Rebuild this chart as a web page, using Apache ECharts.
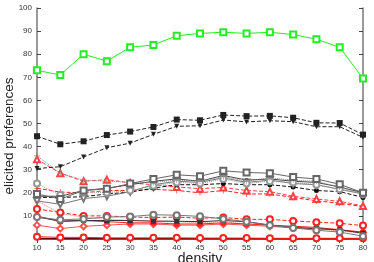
<!DOCTYPE html>
<html><head><meta charset="utf-8">
<script src="https://cdn.jsdelivr.net/npm/echarts@6/dist/echarts.min.js"></script>
<style>html,body{margin:0;padding:0;background:#fff}#c{width:374px;height:262px}</style>
</head><body><div id="c"></div>
<script>
const densities = [10,15,20,25,30,35,40,45,50,55,60,65,70,75,80];
const yTicks = [0,10,20,30,40,50,60,70,80,90,100];
const xTitle = 'density';
const yTitle = 'elicited preferences';

const greenSquares   = [73,71,80,77,83,84,88,89,89.5,89,89.5,88.5,86.5,83,69.5];
const blackSqDashed  = [44.5,41,42.3,45,46.5,48.5,51.7,51.4,53.7,53.2,53.3,52.5,50.3,50.2,45.2];
const blackTriDashed = [30.5,31.3,35.5,39.5,41.5,45.3,48.8,49,51.5,50.7,51.2,50.8,48.6,48.6,44];
const blackOpenSq    = [19.5,17.3,21,21.7,24,26,27.8,27.2,29.5,28.8,28.5,26.8,26,23.7,20];
const grayPlus       = [36,28.5,25.5,25,24.5,24.5,25.5,25,27,25,26.5,25.5,25,22.5,19.5];
const grayOpenCircle = [24,19,20.5,20,21,23,24.5,24,26,24,25,24.5,23.5,21.5,19.5];
const blackSolidMid  = [18.5,18.5,21,22,23.5,25,26,25,27.5,25.5,26,25,24.5,22.5,20];
const grayOpenTriDn  = [16.5,15,17.5,18.5,20.5,23.5,25,24.5,26.5,24.5,25.5,24,23.5,21.5,19.5];
const blackDotDashed = [18,18,18.3,19.5,20.3,22,23.5,23.5,24,23.5,23.5,22.5,21,20.5,18];
const redOpenTri     = [34.5,28.5,25,25.7,24.3,23.5,22.5,21.8,22.3,21,20.5,18.5,17.3,16.3,14.3];
const redStarDashed  = [22,20.3,20,21,21,21.5,21,20,21,19.5,19.5,18,16.5,15.5,14];
const grayCircleLow  = [9.5,8.3,8.7,9.5,9.7,10.5,10.3,9.8,8.7,7.5,6,4.8,3.8,3,1.2];
const blackSqLow     = [9.5,7.8,8,8,8,7.7,7.7,7.5,8,7.5,6,5,4.5,4,2.5];
const redOpenCircDsh = [13,11.5,10,10,9.5,9.3,9.5,9,9.3,8.5,8.5,7.8,7.3,6.8,5.8];
const redFilledCirc  = [10,7.5,8,7.5,7,7,6.5,6.5,7,6.5,6,5.5,5,4,3];
const redDotted      = [16.5,11,9.5,8.5,8,8,7.5,7,7.5,6.5,6,5,4.5,3.5,2.5];
const redOpenDiamond = [6,4.5,5.5,6,6.5,6.5,6,6,6.5,6,5.5,4.8,4.5,3.8,2.8];
const redBottomCirc  = [1,0.7,0.7,0.5,0.5,0.5,0.5,0.4,0.4,0.4,0.3,0.3,0.3,0.3,0.3];
const darkBottom     = [0.2,0.1,0.1,0.1,0.1,0.1,0.1,0.1,0.1,0.1,0.1,0.1,0.1,0.1,0.1];

const plusPath = 'path://M-0.6,-6H0.6V-0.6H6V0.6H0.6V6H-0.6V0.6H-6V-0.6H-0.6Z';

function mk(data, color, type, symbol, opts) {
  opts = opts || {};
  return {
    type: 'line', data: densities.map((d,i)=>[d,data[i]]),
    symbol: symbol, symbolSize: opts.size || 6, symbolRotate: opts.rotate || 0,
    showAllSymbol: true,
    lineStyle: {color: color, width: opts.width || 1, type: type},
    itemStyle: {color: color, borderWidth: opts.bw || 1},
    z: opts.z || 2, animation: false, silent: true
  };
}

const series = [
  mk(darkBottom, '#660000', 'solid', 'none', {width:1.5}),
  mk(redBottomCirc, '#ff2020', 'solid', 'emptyCircle'),
  mk(redOpenDiamond, '#ff5050', 'solid', 'emptyDiamond'),
  mk(redDotted, '#ff7070', 'dotted', 'circle', {size:5}),
  mk(redFilledCirc, '#ff2020', 'solid', 'circle'),
  mk(redOpenCircDsh, '#ff2020', 'dashed', 'emptyCircle'),
  mk(blackSqLow, '#333', 'solid', 'rect', {size:5}),
  mk(grayCircleLow, '#777', 'solid', 'emptyCircle'),
  mk(redStarDashed, '#ff2020', 'dashed', plusPath, {size:6}),
  mk(redOpenTri, '#ff4040', 'dashed', 'emptyTriangle'),
  mk(blackDotDashed, '#111', 'dashed', 'circle', {size:5}),
  mk(grayOpenTriDn, '#777', 'solid', 'emptyTriangle', {rotate:180}),
  mk(blackSolidMid, '#444', 'solid', 'circle', {size:4}),
  mk(grayOpenCircle, '#999', 'dotted', 'emptyCircle'),
  mk(grayPlus, '#888', 'dotted', plusPath, {size:6}),
  mk(blackOpenSq, '#666', 'solid', 'emptyRect'),
  mk(blackTriDashed, '#222', 'dashed', 'triangle', {rotate:180, size:5}),
  mk(blackSqDashed, '#222', 'dashed', 'rect', {size:6}),
  mk(greenSquares, '#22ee22', 'solid', 'emptyRect', {size:6, bw:1.5})
];

const axisLine = {show:true, lineStyle:{color:'#777', width:1.5}};
const tick = {show:true, inside:true, length:4, lineStyle:{color:'#444'}};
const chart = echarts.init(document.getElementById('c'), null, {renderer:'canvas'});
chart.setOption({
  backgroundColor: '#fff',
  animation: false,
  grid: {left:37, right:11, top:8, bottom:23, containLabel:false, outerBoundsMode:'none'},
  graphic: [{
    type:'text', x: 9, y: 136, rotation: Math.PI/2, silent:true,
    style:{text: yTitle, fontFamily:'Liberation Sans', fontSize:13.5, fill:'#222',
      align:'center', verticalAlign:'middle'}
  }],
  xAxis: [
    {type:'value', min:10, max:80, interval:5, position:'bottom',
     name: xTitle, nameLocation:'middle', nameGap:13, nameMoveOverlap:false,
     nameTextStyle:{fontFamily:'Liberation Sans', fontSize:14, color:'#222'},
     axisLine: axisLine, axisTick: tick,
     axisLabel:{fontFamily:'Liberation Sans', fontSize:8, color:'#333', margin:5,
       formatter: v => densities.includes(v) ? String(v) : ''},
     splitLine:{show:false}},
    {type:'value', min:10, max:80, interval:5, position:'top',
     axisLine: axisLine, axisTick: tick, axisLabel:{show:false}, splitLine:{show:false}}
  ],
  yAxis: [
    {type:'value', min:0, max:100, interval:10, position:'left',
     axisLine: axisLine, axisTick: tick,
     axisLabel:{fontFamily:'Liberation Sans', fontSize:8, color:'#333', margin:5,
       formatter: v => (v === 0 || !yTicks.includes(v)) ? '' : String(v)},
     splitLine:{show:false}},
    {type:'value', min:0, max:100, interval:10, position:'right',
     axisLine: axisLine, axisTick: tick, axisLabel:{show:false}, splitLine:{show:false}}
  ],
  series: series
});
</script></body></html>
